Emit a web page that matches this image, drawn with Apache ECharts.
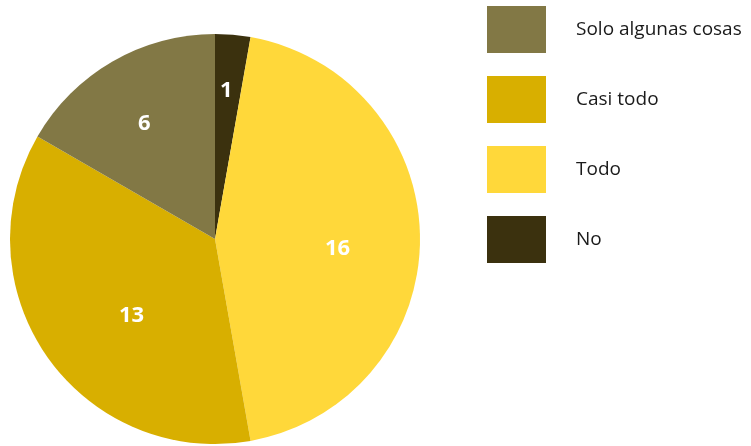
<!DOCTYPE html>
<html><head><meta charset="utf-8">
<script src="https://cdn.jsdelivr.net/npm/echarts@6/dist/echarts.min.js"></script>
<style>html,body{margin:0;padding:0;background:#fff}#c{width:751px;height:446px}</style>
</head><body><div id="c"></div>
<script>
const categories = ['No', 'Todo', 'Casi todo', 'Solo algunas cosas'];
const values = [1, 16, 13, 6];
const legendOrder = ['Solo algunas cosas', 'Casi todo', 'Todo', 'No'];
const colors = ['#3B310E', '#FFD83A', '#D8AF00', '#827845'];
const labelOffsets = [[2, -43], [17, 10], [3, 16], [-18, -24]];

const chart = echarts.init(document.getElementById('c'));
chart.setOption({
  animation: false,
  legend: {
    orient: 'vertical',
    left: 487, top: 6, padding: 0,
    itemWidth: 59, itemHeight: 47, itemGap: 23,
    icon: 'rect',
    data: legendOrder,
    textStyle: { fontFamily: 'Open Sans', fontSize: 19, color: '#1a1a1a', padding: [8, 0, 0, 25] }
  },
  series: [{
    type: 'pie',
    center: [215, 239],
    radius: [0, 205],
    startAngle: 90,
    clockwise: true,
    avoidLabelOverlap: false,
    label: {
      show: true, position: 'inside',
      formatter: '{c}',
      color: '#fff', fontFamily: 'Open Sans', fontWeight: 'bold', fontSize: 22
    },
    labelLine: { show: false },
    itemStyle: { borderWidth: 0 },
    emphasis: { disabled: true },
    data: categories.map((n, i) => ({
      name: n, value: values[i],
      itemStyle: { color: colors[i] },
      label: { offset: labelOffsets[i] }
    }))
  }]
});
</script></body></html>
